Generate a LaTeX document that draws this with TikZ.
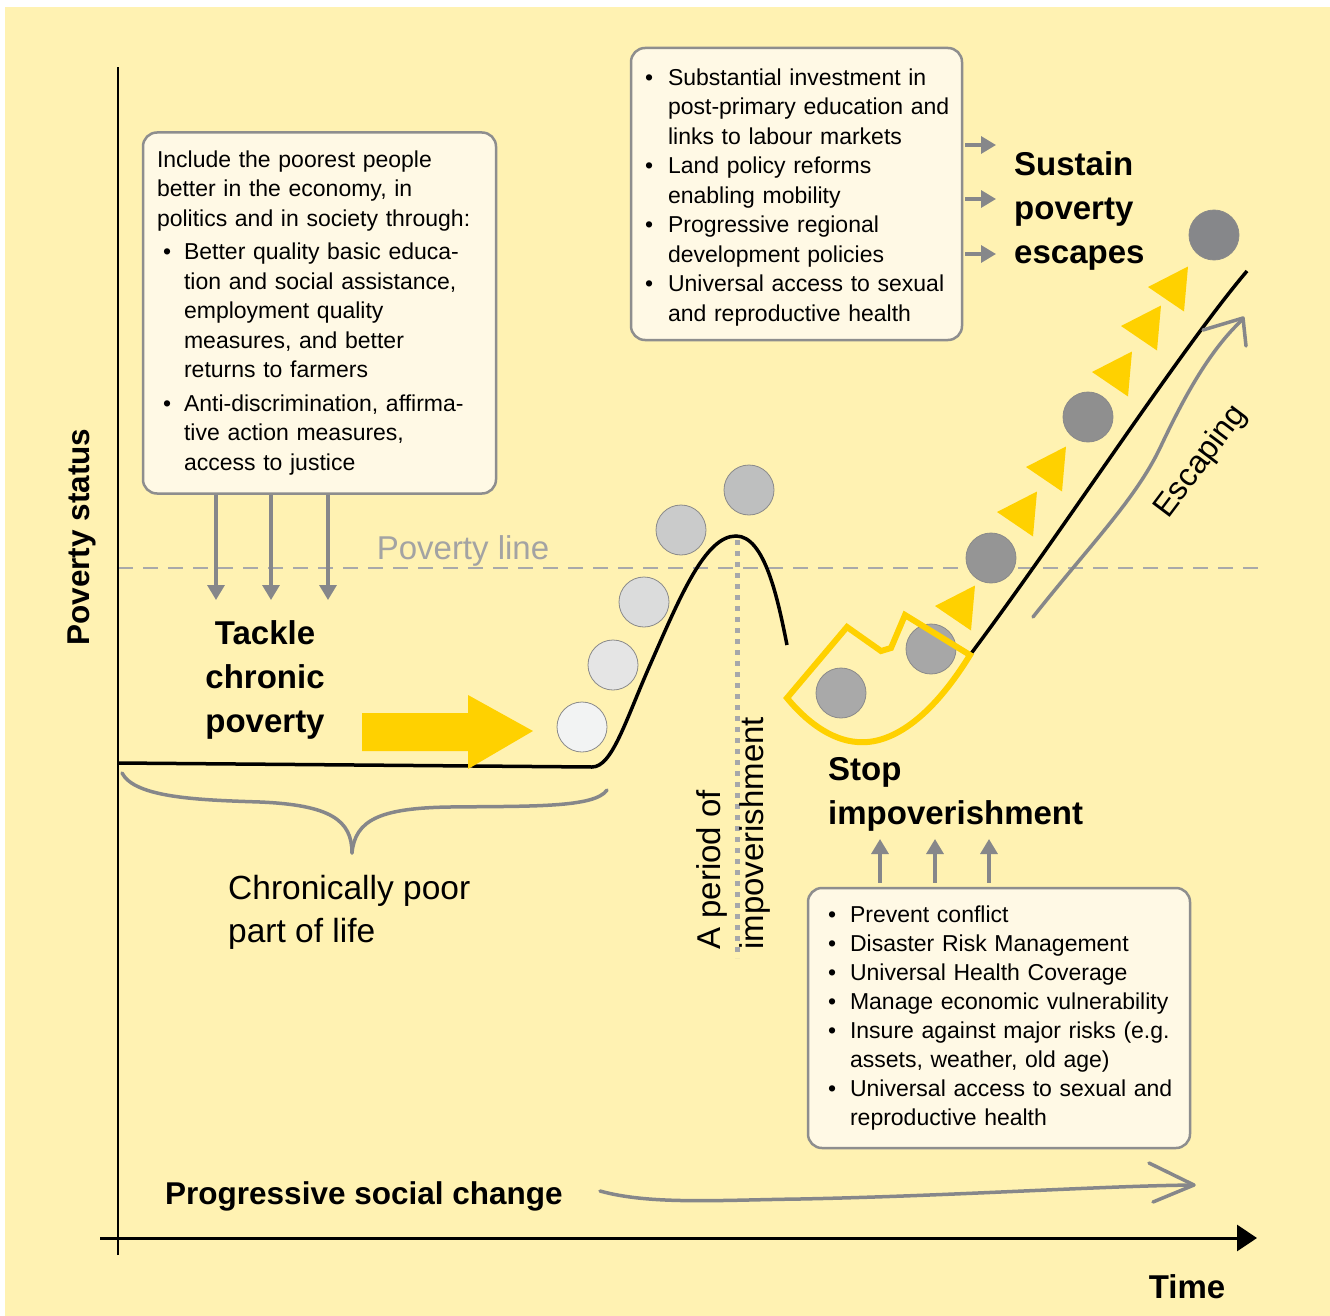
\documentclass[tikz,border=0pt]{standalone}
\usepackage{fontspec}
\setmainfont{Liberation Sans}
\usetikzlibrary{arrows.meta}

\definecolor{bgyellow}{HTML}{FFF2B2}
\definecolor{boxfill}{HTML}{FFF9E5}
\definecolor{boxline}{HTML}{8E8E8E}
\definecolor{gold}{HTML}{FFD100}
\definecolor{arrowgray}{HTML}{86878A}
\definecolor{linegray}{HTML}{A9A9A9}
\definecolor{dotgray}{HTML}{A6A7AA}
\definecolor{povgray}{HTML}{A3A3A3}
\definecolor{ballrim}{HTML}{8A8A8A}

\newcommand{\boxfont}{\fontsize{23}{29.5}\selectfont}
\newcommand{\headfont}{\fontsize{33}{44}\selectfont\bfseries}
\newcommand{\labelfont}{\fontsize{33}{43}\selectfont}
\newcommand{\statfont}{\fontsize{31.5}{38}\selectfont\bfseries}

\begin{document}
\begin{tikzpicture}[x=1pt, y=-1pt,
  box/.style={draw=boxline, line width=2.5pt, fill=boxfill, rounded corners=14pt,
    align=left, inner ysep=0pt, font=\boxfont},
  head/.style={font=\headfont, inner sep=0pt},
  garrow/.style={draw=arrowgray, line width=3.3pt, -{Triangle[length=15pt,width=17pt]}},
  grayline/.style={draw=arrowgray, line width=3.5pt, line cap=round, line join=round},
  curve/.style={line width=3.5pt},
  ball/.style={draw=ballrim, line width=0.8pt}]
\useasboundingbox (0,0) rectangle (1330,1316);

% Background
\fill[bgyellow] (5,7) rectangle (1330,1316);

% Poverty line
\draw[linegray, line width=2pt, dash pattern=on 15pt off 10pt] (118,568) -- (1262,568);
\node[font=\labelfont, text=povgray] (povline) at (463,551) {Poverty line};

% Axes
\coordinate (ytop) at (118,67);
\coordinate (ybot) at (118,1255);
\coordinate (xleft) at (100,1238);
\coordinate (xright) at (1257,1238);
\draw[line width=2.5pt] (ybot) -- (ytop);
\draw[line width=3pt, -{Triangle[length=20pt,width=26pt]}] (xleft) -- (xright);
\node[font=\statfont, rotate=90] (status) at (82,537) {Poverty status};
\node[head] (timelab) at (1187,1287) {Time};

% Period of impoverishment
\draw[dotgray, line width=5pt, dash pattern=on 5pt off 6pt] (737,540) -- (737,958);
\node[rotate=90, anchor=west, align=left, font=\labelfont, inner sep=0pt] (period) at (733,950)
  {A period of\\impoverishment};

% Life course curve
\draw[curve] (118,763) -- (592,767) .. controls (612,767) and (625,722) .. (650,665)
  .. controls (680,597) and (705,536) .. (736,536)
  .. controls (765,536) and (778,600) .. (787,645);
\draw[curve] (970,655) .. controls (1060,535) and (1180,350) .. (1247,271);

% Escaping arrow
\draw[grayline] (1033,617) .. controls (1090,545) and (1135,500) .. (1160,448)
  .. controls (1178,410) and (1205,355) .. (1241,321);
\draw[grayline] (1203,330) -- (1243,318) -- (1246,346);
\node[rotate=53, font=\fontsize{32}{40}\selectfont] (escaping) at (1201,462) {Escaping};

% Balls
\foreach \x/\y/\c in {582/727/F2F3F3, 613/665/E5E5E5, 644/602/DBDCDC, 681/530/CACBCB,
  749/490/BEBFBF, 841/693/A9A9A9, 931/649/A7A7A7, 991/558/959595,
  1088/417/8F8F8F, 1214/235/86878A}{
  \definecolor{ballc}{HTML}{\c}
  \draw[ball, fill=ballc] (\x,\y) circle[radius=25pt];
}

% Triangles
\foreach \x/\y in {935/606, 997/512, 1026/467, 1092/372, 1121/326, 1148/287}
  \fill[gold] (\x,\y) -- ++(40,-20.5) -- ++(-4,45) -- cycle;

% Stop shape
\draw[gold, line width=6pt, line join=miter] (787,698) -- (847,627) -- (881,651)
  -- (891,648) -- (905,615) -- (970,655)
  .. controls (930,720) and (890,745) .. (857,742)
  .. controls (830,740) and (805,720) .. cycle;

% Big arrow
\fill[gold] (362,713) -- (468,713) -- (468,695) -- (533,731) -- (468,769)
  -- (468,751) -- (362,751) -- cycle;

% Brace
\draw[grayline] (122,773) .. controls (135,798) and (200,800) .. (260,802)
  .. controls (330,805) and (352,820) .. (352,853);
\draw[grayline] (352,853) .. controls (355,820) and (380,808) .. (450,807)
  .. controls (530,806) and (595,808) .. (607,790);
\node[font=\fontsize{33.5}{43}\selectfont, align=left, anchor=west, inner sep=0pt] (chronic) at (228,912)
  {Chronically poor\\part of life};

% Progressive social change
\node[font=\statfont, anchor=west, inner sep=0pt] (progress) at (165,1196) {Progressive social change};
\draw[grayline] (600,1191) .. controls (650,1205) and (720,1200) .. (800,1199)
  .. controls (950,1196) and (1100,1186) .. (1193,1185);
\draw[grayline] (1149,1163) -- (1194,1185) -- (1153,1202);

% Inclusion box
\node[box, minimum width=353pt, minimum height=361pt, text width=325pt, inner xsep=14pt]
  (incl) at (319.5,313) {%
  \begin{tabular}{@{\hspace{6pt}}l@{\hspace{13pt}}l@{}}
  \multicolumn{2}{@{}l@{}}{Include the poorest people}\\
  \multicolumn{2}{@{}l@{}}{better in the economy, in}\\
  \multicolumn{2}{@{}l@{}}{politics and in society through:}\\[4pt]
  \textbullet & Better quality basic educa-\\
  & tion and social assistance,\\
  & employment quality\\
  & measures, and better\\
  & returns to farmers\\[4pt]
  \textbullet & Anti-discrimination, affirma-\\
  & tive action measures,\\
  & access to justice
  \end{tabular}};

% Investment box
\node[box, minimum width=331pt, minimum height=292pt, text width=307pt, inner xsep=12pt]
  (invest) at (796.5,194) {%
  \vspace*{6pt}
  \begin{tabular}{@{\hspace{2pt}}l@{\hspace{15pt}}l@{}}
  \textbullet & Substantial investment in\\
  & post-primary education and\\
  & links to labour markets\\
  \textbullet & Land policy reforms\\
  & enabling mobility\\
  \textbullet & Progressive regional\\
  & development policies\\
  \textbullet & Universal access to sexual\\
  & and reproductive health
  \end{tabular}};

% Protection box
\node[box, minimum width=382pt, minimum height=260pt, text width=350pt, inner xsep=16pt]
  (protect) at (999,1018) {%
  \fontsize{23}{29}\selectfont
  \begin{tabular}{@{\hspace{4pt}}l@{\hspace{14pt}}l@{}}
  \textbullet & Prevent conflict\\
  \textbullet & Disaster Risk Management\\
  \textbullet & Universal Health Coverage\\
  \textbullet & Manage economic vulnerability\\
  \textbullet & Insure against major risks (e.g.\\
  & assets, weather, old age)\\
  \textbullet & Universal access to sexual and\\
  & reproductive health
  \end{tabular}};

% Headings
\node[head, align=center] (tackle) at (265,680) {Tackle\\chronic\\poverty};
\node[head, align=left, anchor=west] (sustain) at (1014,211) {Sustain\\poverty\\escapes};
\node[head, align=left, anchor=west] (stop) at (828,794) {Stop\\impoverishment};

% Arrows
\coordinate (tk1) at (216,600);
\coordinate (tk2) at (271,600);
\coordinate (tk3) at (328,600);
\foreach \t in {tk1,tk2,tk3}
  \draw[garrow] (incl.south -| \t) -- (\t);
\coordinate (su1) at (996,145);
\coordinate (su2) at (996,199);
\coordinate (su3) at (996,254);
\foreach \t in {su1,su2,su3}
  \draw[garrow, shorten <=2pt] (invest.east |- \t) -- (\t);
\coordinate (st1) at (880,839);
\coordinate (st2) at (935,839);
\coordinate (st3) at (989,839);
\foreach \t in {st1,st2,st3}
  \draw[garrow, shorten <=4pt] (protect.north -| \t) -- (\t);
\end{tikzpicture}
\end{document}
